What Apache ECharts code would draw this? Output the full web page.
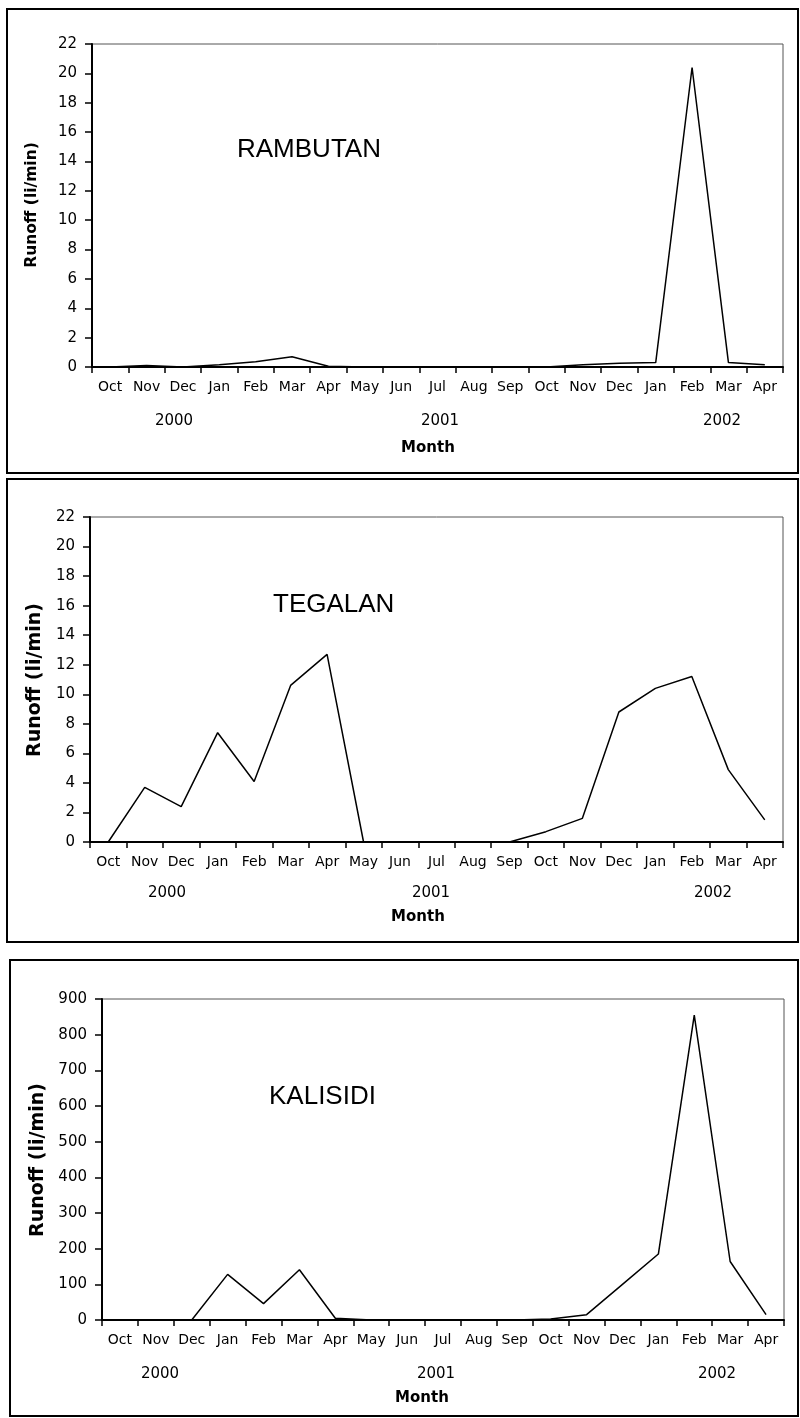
<!DOCTYPE html>
<html><head><meta charset="utf-8">
<script src="https://cdn.jsdelivr.net/npm/echarts@6/dist/echarts.min.js"></script>
<style>html,body{margin:0;padding:0;background:#fff}#c{width:800px;height:1418px}</style>
</head><body><div id="c"></div><script>
// ---- data ----
const months = ['Oct','Nov','Dec','Jan','Feb','Mar','Apr','May','Jun','Jul','Aug','Sep','Oct','Nov','Dec','Jan','Feb','Mar','Apr'];
const years = ['2000','2001','2002'];
const xTitle = 'Month';
const yTitle = 'Runoff (li/min)';
const siteNames = ['RAMBUTAN','TEGALAN','KALISIDI'];
const rambutan = [0,0.1,0,0.15,0.35,0.7,0.05,0,0,0,0,0,0,0.15,0.25,0.3,20.4,0.3,0.15];
const tegalan  = [0,3.7,2.4,7.4,4.1,10.6,12.7,0,0,0,0,0,0.7,1.6,8.8,10.4,11.2,4.9,1.5];
const kalisidi = [0,0,0,128,46,141,5,0,0,0,0,0,3,15,100,185,855,164,15];
const yMax = [22,22,900];
const yStep = [2,2,100];
const seriesData = [rambutan, tegalan, kalisidi];

// ---- layout ----
const panels = [
  {grid:{left:92, top:44, width:691, height:323}, box:[7,9,791,464], yTitleSize:15.5, yTitlePos:[32,205],
   namePos:[237,150], yearPos:[[174,421],[440,421],[722,421]], monthPos:[428,448]},
  {grid:{left:90, top:517, width:693, height:325}, box:[7,479,791,463], yTitleSize:19, yTitlePos:[35,680],
   namePos:[273,605], yearPos:[[167,893],[431,893],[713,893]], monthPos:[418,917]},
  {grid:{left:102, top:999, width:682, height:321}, box:[10,960,788,456], yTitleSize:19, yTitlePos:[38,1160],
   namePos:[269,1097], yearPos:[[160,1374],[436,1374],[717,1374]], monthPos:[422,1398]}
];

function txt(x, y, text, font, extra) {
  return Object.assign({
    type:'text', x:x, y:y, z:100,
    style:{text:text, font:font, fill:'#000', textAlign:'center', textVerticalAlign:'middle', align:'center', verticalAlign:'middle'}
  }, extra || {});
}

const grids = [], xAxes = [], yAxes = [], series = [], graphics = [];
panels.forEach((p, i) => {
  grids.push(Object.assign({show:true, borderColor:'#555', borderWidth:1, backgroundColor:'#fff'}, p.grid));
  xAxes.push({
    gridIndex:i, type:'category', data:months, boundaryGap:true,
    axisLine:{show:true, lineStyle:{color:'#000', width:2}},
    axisTick:{show:true, interval:0, length:6, lineStyle:{color:'#000', width:1.5}},
    axisLabel:{interval:0, color:'#000', fontFamily:'DejaVu Sans', fontSize:14, margin:13},
    splitLine:{show:false}
  });
  yAxes.push({
    gridIndex:i, type:'value', min:0, max:yMax[i], interval:yStep[i],
    axisLine:{show:true, lineStyle:{color:'#000', width:2}},
    axisTick:{show:true, length:7, lineStyle:{color:'#000', width:1.5}},
    axisLabel:{color:'#000', fontFamily:'DejaVu Sans', fontSize:15, margin:15},
    splitLine:{show:false}
  });
  series.push({
    type:'line', xAxisIndex:i, yAxisIndex:i, data:seriesData[i],
    symbol:'none', showSymbol:false, lineStyle:{color:'#000', width:1.5}, z:5
  });
  graphics.push({type:'rect', shape:{x:p.box[0], y:p.box[1], width:p.box[2], height:p.box[3]},
    style:{fill:'none', stroke:'#000', lineWidth:2}, z:50});
  graphics.push(txt(p.yTitlePos[0], p.yTitlePos[1], yTitle, 'bold ' + p.yTitleSize + 'px "DejaVu Sans"', {rotation:Math.PI/2}));
  const nm = txt(p.namePos[0], p.namePos[1], siteNames[i], '26px "Liberation Sans"');
  nm.style.textAlign = 'left'; nm.style.align = 'left';
  graphics.push(nm);
  years.forEach((yr, k) => graphics.push(txt(p.yearPos[k][0], p.yearPos[k][1], yr, '15px "DejaVu Sans"')));
  graphics.push(txt(p.monthPos[0], p.monthPos[1], xTitle, 'bold 15px "DejaVu Sans"'));
});

const chart = echarts.init(document.getElementById('c'), null, {renderer:'canvas'});
chart.setOption({
  animation:false,
  backgroundColor:'#fff',
  grid:grids, xAxis:xAxes, yAxis:yAxes, series:series, graphic:graphics
});
</script></body></html>
